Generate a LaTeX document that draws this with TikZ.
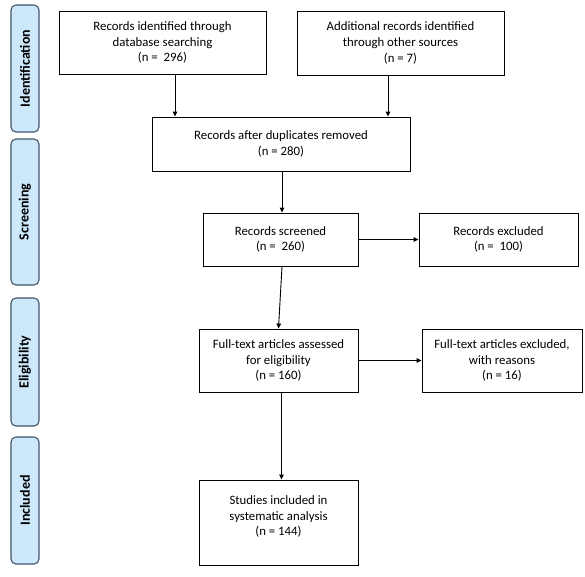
\documentclass[tikz,border=0pt]{standalone}
\usepackage{fontspec}
\setmainfont{Carlito}
\usetikzlibrary{arrows.meta}
\definecolor{phasefill}{RGB}{205,232,251}
\definecolor{phasedraw}{RGB}{65,84,106}
\begin{document}
\begin{tikzpicture}[x=1pt,y=-1pt,
  box/.style={draw=black,line width=0.9pt,fill=white,align=center,inner sep=0pt,
    font=\fontsize{12.8}{15.6}\selectfont},
  phase/.style={draw=phasedraw,line width=1.1pt,fill=phasefill,rounded corners=5pt,rotate=90,
    minimum height=28pt,inner sep=0pt,font=\fontsize{14}{16}\selectfont\bfseries},
  arr/.style={line width=0.9pt,-{Triangle[length=5pt,width=4.5pt]}}]
\useasboundingbox (0,0) rectangle (585,576);
% phase labels
\node[phase,minimum width=127pt] (p1) at (25,68.5) {Identification};
\node[phase,minimum width=146pt] (p2) at (25,212) {Screening};
\node[phase,minimum width=128pt] (p3) at (25,362) {Eligibility};
\node[phase,minimum width=127pt] (p4) at (25,500.5) {Included};
% boxes
\node[box,minimum width=207pt,minimum height=63pt] (A) at (162.5,42.5)
  {Records identified through\\database searching\\(n =\ \ 296)};
\node[box,minimum width=207pt,minimum height=64pt] (B) at (400.5,43)
  {Additional records identified\\through other sources\\(n = 7)};
\node[box,minimum width=258pt,minimum height=54pt] (C) at (281,144)
  {Records after duplicates removed\\(n = 280)};
\node[box,minimum width=155pt,minimum height=53pt] (D) at (280.5,239.5)
  {Records screened\\(n =\ \ 260)};
\node[box,minimum width=159pt,minimum height=53pt] (E) at (498.5,239.5)
  {Records excluded\\(n =\ \ 100)};
\node[box,minimum width=159pt,minimum height=63pt] (F) at (278.5,360.5)
  {Full-text articles assessed\\for eligibility\\(n = 160)};
\node[box,minimum width=160pt,minimum height=63pt] (G) at (502,360.5)
  {Full-text articles excluded,\\with reasons\\(n = 16)};
\node[box,minimum width=159pt,minimum height=85pt,
  label={[box,draw=none,fill=none,yshift=6pt]center:Studies included in\\systematic analysis\\(n = 144)}] (H) at (278.5,522.5) {};
% connectors
\draw[arr] ([xshift=12.5pt]A.south) -- ([xshift=12.5pt]A.south |- C.north);
\draw[arr] ([xshift=-12.5pt]B.south) -- ([xshift=-12.5pt]B.south |- C.north);
\draw[arr] ([xshift=1pt]C.south) -- ([xshift=1pt]C.south |- D.north);
\draw[arr] ([xshift=1.5pt]D.south) -- (F.north);
\draw[arr] (D.east) -- (E.west);
\draw[arr] (F.east) -- (G.west);
\draw[arr] ([xshift=3pt]F.south) -- ([xshift=3pt]F.south |- H.north);
\end{tikzpicture}
\end{document}
